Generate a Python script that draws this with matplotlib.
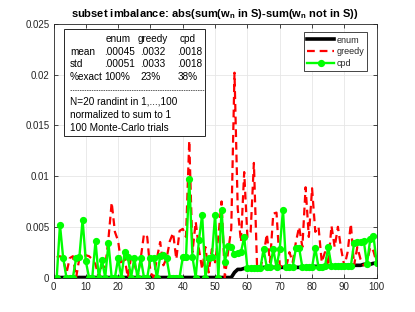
import numpy as np
import matplotlib
matplotlib.use('Agg')
import matplotlib.pyplot as plt
from matplotlib.patches import Rectangle
from matplotlib.lines import Line2D

plt.rcParams['font.family'] = ['Liberation Sans', 'DejaVu Sans']
plt.rcParams['mathtext.fontset'] = 'custom'
plt.rcParams['mathtext.rm'] = 'Liberation Sans'
plt.rcParams['mathtext.bf'] = 'Liberation Sans:bold'

# trial index 1..100 (sorted by enum result)
trials = np.arange(1, 101)

enum_vals = [0.0] * 55 + [
    0.0005, 0.0008, 0.0008, 0.0009, 0.0009,
    0.0009, 0.0009, 0.0009, 0.0009, 0.0010, 0.0010, 0.0010, 0.0010, 0.0010, 0.0010,
    0.0010, 0.0010, 0.0010, 0.0010, 0.0010, 0.0010, 0.0010, 0.0010, 0.0010, 0.0011,
    0.0011, 0.0011, 0.0011, 0.0011, 0.0011, 0.0011, 0.0011, 0.0011, 0.0011, 0.0012,
    0.0012, 0.0012, 0.0012, 0.0012, 0.0012, 0.0013, 0.0013, 0.0013, 0.0014, 0.0014,
]

greedy_vals = [
    0.0020, 0.0021, 0.0019, 0.0004, 0.0019, 0.0021, 0.0000, 0.0019, 0.0021, 0.0022,
    0.0021, 0.0018, 0.0013, 0.0000, 0.0012, 0.0010, 0.0038, 0.0074, 0.0045, 0.0036,
    0.0012, 0.0019, 0.0000, 0.0020, 0.0015, 0.0000, 0.0019, 0.0043, 0.0040, 0.0005,
    0.0000, 0.0019, 0.0035, 0.0012, 0.0019, 0.0036, 0.0044, 0.0018, 0.0046, 0.0048,
    0.0040, 0.0135, 0.0025, 0.0055, 0.0028, 0.0008, 0.0030, 0.0005, 0.0028, 0.0015,
    0.0040, 0.0075, 0.0000, 0.0025, 0.0048, 0.0202, 0.0068, 0.0035, 0.0104, 0.0040,
    0.0045, 0.0113, 0.0009, 0.0009, 0.0022, 0.0043, 0.0015, 0.0063, 0.0064, 0.0012,
    0.0010, 0.0010, 0.0025, 0.0015, 0.0035, 0.0050, 0.0030, 0.0089, 0.0040, 0.0088,
    0.0045, 0.0050, 0.0015, 0.0025, 0.0011, 0.0051, 0.0030, 0.0050, 0.0028, 0.0011,
    0.0025, 0.0053, 0.0012, 0.0030, 0.0018, 0.0012, 0.0015, 0.0030, 0.0026, 0.0014,
]

cpd_vals = [
    0.0000, 0.0052, 0.0019, 0.0000, 0.0000, 0.0000, 0.0019, 0.0020, 0.0057, 0.0016,
    0.0000, 0.0000, 0.0036, 0.0000, 0.0017, 0.0000, 0.0034, 0.0000, 0.0000, 0.0019,
    0.0000, 0.0025, 0.0020, 0.0000, 0.0019, 0.0000, 0.0019, 0.0000, 0.0000, 0.0019,
    0.0019, 0.0000, 0.0021, 0.0022, 0.0019, 0.0000, 0.0000, 0.0000, 0.0000, 0.0020,
    0.0020, 0.0097, 0.0020, 0.0000, 0.0037, 0.0062, 0.0000, 0.0019, 0.0020, 0.0062,
    0.0000, 0.0067, 0.0015, 0.0031, 0.0030, 0.0023, 0.0024, 0.0025, 0.0040, 0.0009,
    0.0009, 0.0009, 0.0009, 0.0009, 0.0028, 0.0010, 0.0010, 0.0028, 0.0010, 0.0028,
    0.0067, 0.0010, 0.0010, 0.0010, 0.0029, 0.0029, 0.0010, 0.0010, 0.0010, 0.0010,
    0.0029, 0.0010, 0.0010, 0.0011, 0.0030, 0.0011, 0.0011, 0.0011, 0.0011, 0.0011,
    0.0011, 0.0011, 0.0034, 0.0035, 0.0035, 0.0036, 0.0013, 0.0038, 0.0041, 0.0014,
]

table_cols = ['enum', 'greedy', 'cpd']
table_rows = ['mean', 'std', '%exact']
table_cells = [['.00045', '.0032', '.0018'],
               ['.00051', '.0033', '.0018'],
               ['100%', '23%', '38%']]
notes = ['N=20 randint in 1,...,100', 'normalized to sum to 1', '100 Monte-Carlo trials']

W, H = 415, 312
dark = '#262626'


def fx(x):
    return x / W


def fy(y):
    return 1 - y / H


fig = plt.figure(figsize=(W / 100, H / 100), dpi=100)
ax = fig.add_axes([fx(53.5), fy(277.5), fx(376.7 - 53.5), (277.5 - 24) / H])

ax.plot(trials, enum_vals, color='black', lw=2.6, label='enum')
ax.plot(trials, greedy_vals, color='red', lw=1.6, ls=(0, (3.5, 2.2)), label='greedy')
ax.plot(trials, cpd_vals, color='#00ff00', lw=1.7, marker='o', ms=4.2, label='cpd')

ax.set_xlim(0, 100)
ax.set_ylim(0, 0.025)
ax.set_xticks(range(0, 101, 10))
ax.set_yticks([0, 0.005, 0.01, 0.015, 0.02, 0.025])
ax.set_yticklabels(['0', '0.005', '0.01', '0.015', '0.02', '0.025'])
ax.tick_params(direction='in', top=True, right=True, labelsize=7, colors=dark,
               length=3, width=0.6, pad=3)
ax.grid(True, color='#e6e6e6', lw=0.6)
for s in ax.spines.values():
    s.set_color(dark)
    s.set_linewidth(0.6)

ax.set_title(r'subset imbalance: abs(sum(w$_\mathbf{n}$ in S)-sum(w$_\mathbf{n}$ not in S))',
             fontsize=8, fontweight='bold', pad=5)

leg = ax.legend(loc='upper right', bbox_to_anchor=(0.971, 0.967), borderaxespad=0,
                fontsize=6.5, handlelength=3.0, handletextpad=0.25, labelspacing=0.3,
                borderpad=0.35, fancybox=False, framealpha=1, edgecolor=dark)
leg.get_frame().set_linewidth(0.6)
for t in leg.get_texts():
    t.set_color(dark)

# stats text box
fig.add_artist(Rectangle((fx(64.3), fy(135.7)), fx(205 - 64.3), (135.7 - 29.3) / H,
                         transform=fig.transFigure, facecolor='white', edgecolor=dark,
                         lw=0.7, zorder=5))
col_x = [104, 140.5, 177.3]
fs = 7.2
for cx, name in zip([105.5, 138, 180], table_cols):
    fig.text(fx(cx), fy(39.5), name, fontsize=fs, va='center', color='black', zorder=6)
for r, (lab, cells) in enumerate(zip(table_rows, table_cells)):
    yy = 52 + r * 12.3
    fig.text(fx(70), fy(yy), lab, fontsize=fs, va='center', zorder=6)
    for cx, c in zip(col_x, cells):
        fig.text(fx(cx), fy(yy), c, fontsize=fs, va='center', zorder=6)
fig.add_artist(Line2D([fx(70), fx(204)], [fy(90), fy(90)], transform=fig.transFigure,
                      color=dark, lw=0.5, ls=(0, (2.2, 1.2)), zorder=6))
for k, line in enumerate(notes):
    fig.text(fx(70), fy(102 + k * 13), line, fontsize=fs, va='center', zorder=6)

fig.savefig('out.png', dpi=100)
